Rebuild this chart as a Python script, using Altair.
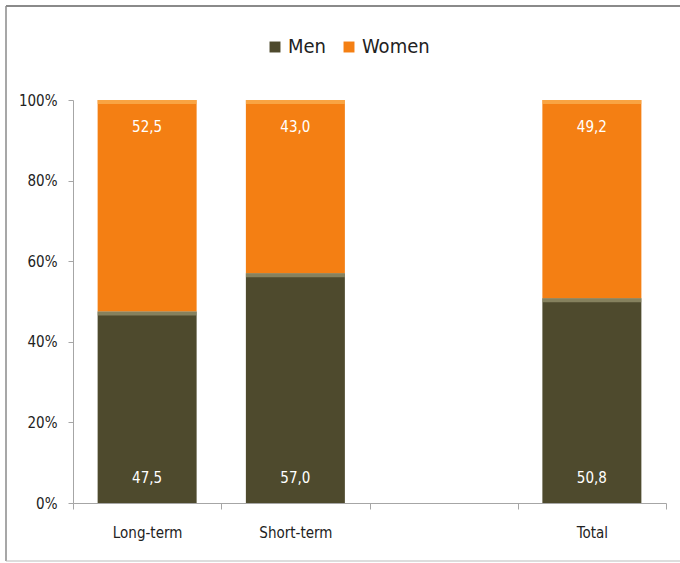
import altair as alt
import pandas as pd

categories = ["Long-term", "Short-term", " ", "Total"]
bar_categories = ["Long-term", "Short-term", "Total"]
men = [47.5, 57.0, 50.8]
women = [52.5, 43.0, 49.2]
series = ["Men", "Women"]
colors = ["#4E4A2D", "#F47F13"]
bevel_colors = ["#9C9873", "#FBB457"]
y_ticks = [0, 20, 40, 60, 80, 100]

FONT = "Liberation Sans Narrow, DejaVu Sans Condensed, Lato, sans-serif"

rows = []
for i, cat in enumerate(bar_categories):
    rows.append({"cat": cat, "sex": "Men", "order": 0, "value": men[i],
                 "base": 0.0, "top": men[i]})
    rows.append({"cat": cat, "sex": "Women", "order": 1, "value": women[i],
                 "base": men[i], "top": men[i] + women[i]})
df = pd.DataFrame(rows)
df["label"] = df["value"].map(lambda v: f"{v:.1f}".replace(".", ","))

x_enc = alt.X(
    "cat:N",
    scale=alt.Scale(domain=categories, paddingInner=0, paddingOuter=0),
    axis=alt.Axis(
        title=None, labelAngle=0, tickBand="extent", domainColor="#A6A6A6",
        tickColor="#A6A6A6", tickSize=6, labelPadding=16, labelFontSize=15,
        labelColor="#222222", labelFont=FONT, grid=False,
    ),
)
y_scale = alt.Scale(domain=[0, 100], nice=False)

bars = alt.Chart(df).mark_bar(size=99).encode(
    x=x_enc,
    y=alt.Y(
        "base:Q", scale=y_scale,
        axis=alt.Axis(
            title=None, values=y_ticks, labelExpr="datum.value + '%'",
            grid=False, domainColor="#A6A6A6", tickColor="#A6A6A6",
            tickSize=5, labelPadding=11, labelFontSize=15,
            labelColor="#222222", labelFont=FONT,
        ),
    ),
    y2="top:Q",
    color=alt.Color(
        "sex:N",
        scale=alt.Scale(domain=series, range=colors),
        legend=alt.Legend(
            title=None, orient="none", direction="horizontal",
            legendX=192, legendY=-63, symbolType="square", symbolSize=120,
            symbolStrokeWidth=0, labelFontSize=20, labelFont=FONT,
            labelColor="#222222", columnPadding=12, labelOffset=3,
        ),
    ),
)

bevel = alt.Chart(df).mark_tick(
    orient="horizontal", thickness=4, size=99, yOffset=2
).encode(
    x=alt.X("cat:N", scale=alt.Scale(domain=categories)),
    y=alt.Y("top:Q", scale=y_scale),
    color=alt.Color("sex:N", scale=alt.Scale(domain=series, range=bevel_colors),
                    legend=None),
)

men_labels = alt.Chart(df[df["sex"] == "Men"]).mark_text(
    color="white", fontSize=15, font=FONT, dy=-25
).encode(
    x=alt.X("cat:N", scale=alt.Scale(domain=categories)),
    y=alt.Y("base:Q", scale=y_scale),
    text="label:N",
)

women_labels = alt.Chart(df[df["sex"] == "Women"]).mark_text(
    color="white", fontSize=15, font=FONT, dy=27
).encode(
    x=alt.X("cat:N", scale=alt.Scale(domain=categories)),
    y=alt.Y("top:Q", scale=y_scale),
    text="label:N",
)

# frame drawn around the whole figure
one = pd.DataFrame({"k": [0]})
frame_left = alt.Chart(one).mark_rule(color="#8A8A8A", strokeWidth=1.5).encode(
    x=alt.value(-67), y=alt.value(-94), y2=alt.value(461))
frame_top = alt.Chart(one).mark_rule(color="#8A8A8A", strokeWidth=2).encode(
    x=alt.value(-67), x2=alt.value(607), y=alt.value(-94))
frame_bottom = alt.Chart(one).mark_rule(color="#BBBBBB", strokeWidth=1).encode(
    x=alt.value(-67), x2=alt.value(607), y=alt.value(461))

chart = alt.layer(
    bars, bevel, men_labels, women_labels, frame_left, frame_top, frame_bottom
).resolve_scale(color="independent").properties(
    width=593, height=403,
    view=alt.ViewBackground(stroke="transparent", strokeWidth=0),
    autosize=alt.AutoSizeParams(type="none"),
    padding={"left": 73, "top": 100, "right": 14, "bottom": 60},
).configure_view(strokeWidth=0, stroke="transparent").configure_axis(
    grid=False
).configure(background="white")

chart.save("out.html", embed_options={"renderer": "svg", "actions": False})
